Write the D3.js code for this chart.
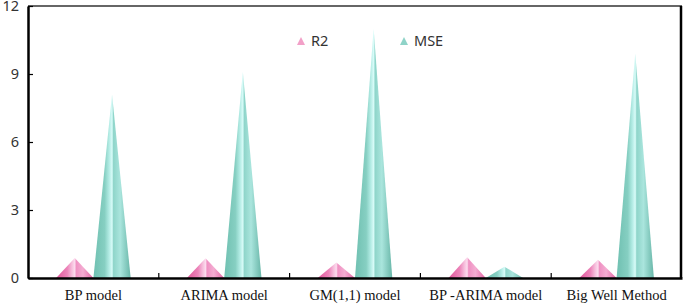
<!DOCTYPE html>
<html>
<head>
<meta charset="utf-8">
<script src="https://cdn.jsdelivr.net/npm/d3@7"></script>
<style>
  html, body { margin: 0; padding: 0; background: #fff; }
  svg { display: block; }
</style>
</head>
<body>
<svg id="chart"></svg>
<script>
const categories = ["BP model", "ARIMA model", "GM(1,1) model", "BP -ARIMA model", "Big Well Method"];
const seriesNames = ["R2", "MSE"];
const r2Values = [0.88, 0.87, 0.68, 0.92, 0.80];
const mseValues = [8.1, 9.1, 11.0, 0.5, 9.9];
const yTicks = [0, 3, 6, 9, 12];

(function () {
  const width = 685;
  const height = 307;
  const margin = { top: 6, right: 3, bottom: 29, left: 28 };

  const svg = d3.select("#chart")
    .attr("width", width)
    .attr("height", height);

  const defs = svg.append("defs");

  // gradients giving the faceted pyramid look
  const palettes = {
    R2: [
      [0, "#e0559a"], [0.3, "#ec84b9"], [0.42, "#f6bcdb"], [0.5, "#fcdcee"],
      [0.54, "#ef90c2"], [0.72, "#f4add2"], [1, "#e262a3"]
    ],
    MSE: [
      [0, "#6fc0b1"], [0.3, "#86cfc2"], [0.42, "#b2ebe4"], [0.5, "#d8fbf8"],
      [0.54, "#8fd5ca"], [0.72, "#aae5dd"], [1, "#68b6a8"]
    ]
  };
  Object.entries(palettes).forEach(([key, stops]) => {
    const g = defs.append("linearGradient")
      .attr("id", "grad-" + key)
      .attr("x1", 0).attr("x2", 1).attr("y1", 0).attr("y2", 0);
    stops.forEach(s => g.append("stop").attr("offset", s[0]).attr("stop-color", s[1]));
  });

  const x = d3.scaleBand()
    .domain(categories)
    .range([margin.left, width - margin.right]);

  const inner = d3.scaleBand()
    .domain(seriesNames)
    .range([x.bandwidth() * 0.215, x.bandwidth() * 0.785]);

  const y = d3.scaleLinear()
    .domain([0, 12])
    .range([height - margin.bottom, margin.top]);

  const data = categories.map((c, i) => ({ cat: c, R2: r2Values[i], MSE: mseValues[i] }));

  // pyramids
  const groups = svg.append("g").selectAll("g")
    .data(data)
    .join("g")
    .attr("transform", d => `translate(${x(d.cat)},0)`);

  groups.selectAll("path")
    .data(d => seriesNames.map(s => ({ key: s, value: d[s] })))
    .join("path")
    .attr("fill", d => `url(#grad-${d.key})`)
    .attr("d", d => {
      const x0 = inner(d.key);
      const x1 = x0 + inner.bandwidth();
      const cx = (x0 + x1) / 2;
      return `M${x0},${y(0)}L${cx},${y(d.value)}L${x1},${y(0)}Z`;
    });

  // frame: top and right
  svg.append("line")
    .attr("x1", margin.left).attr("x2", width - margin.right)
    .attr("y1", margin.top).attr("y2", margin.top)
    .attr("stroke", "#333").attr("stroke-width", 1.5);
  svg.append("line")
    .attr("x1", width - margin.right - 1).attr("x2", width - margin.right - 1)
    .attr("y1", margin.top).attr("y2", height - margin.bottom)
    .attr("stroke", "#000").attr("stroke-width", 2.5);

  // y axis
  const yAxis = svg.append("g")
    .attr("transform", `translate(${margin.left},0)`)
    .call(d3.axisLeft(y).tickValues(yTicks).tickSize(-5).tickPadding(9).tickSizeOuter(0));
  yAxis.select(".domain").attr("stroke", "#000").attr("stroke-width", 2.5);
  yAxis.selectAll(".tick line").attr("stroke", "#000").attr("stroke-width", 1.2);
  yAxis.selectAll("text")
    .attr("font-family", "'Noto Sans', sans-serif")
    .attr("font-size", 14.5)
    .attr("fill", "#333");

  // x axis with inward ticks between categories
  const xAxis = svg.append("g")
    .attr("transform", `translate(0,${height - margin.bottom})`)
    .call(d3.axisBottom(x).tickSize(0).tickPadding(12).tickSizeOuter(0));
  xAxis.select(".domain").attr("stroke", "#000").attr("stroke-width", 2.5);
  xAxis.selectAll("text")
    .attr("font-family", "'Liberation Serif', 'Times New Roman', serif")
    .attr("font-size", 14.5)
    .attr("fill", "#111");

  svg.append("g").selectAll("line")
    .data(categories.slice(1))
    .join("line")
    .attr("x1", d => x(d)).attr("x2", d => x(d))
    .attr("y1", y(0)).attr("y2", y(0) - 5)
    .attr("stroke", "#000").attr("stroke-width", 1.2);

  // legend
  const legendItems = [
    { key: "R2", x: 297, color: "#f2a0c8" },
    { key: "MSE", x: 400, color: "#8fd3c8" }
  ];
  const legend = svg.append("g");
  legendItems.forEach(item => {
    legend.append("path")
      .attr("d", `M${item.x},45L${item.x + 4},37L${item.x + 8},45Z`)
      .attr("fill", item.color);
    legend.append("text")
      .attr("x", item.x + 14)
      .attr("y", 46)
      .attr("font-family", "'Noto Sans', sans-serif")
      .attr("font-size", 14.5)
      .attr("fill", "#333")
      .text(item.key);
  });
})();
</script>
</body>
</html>
